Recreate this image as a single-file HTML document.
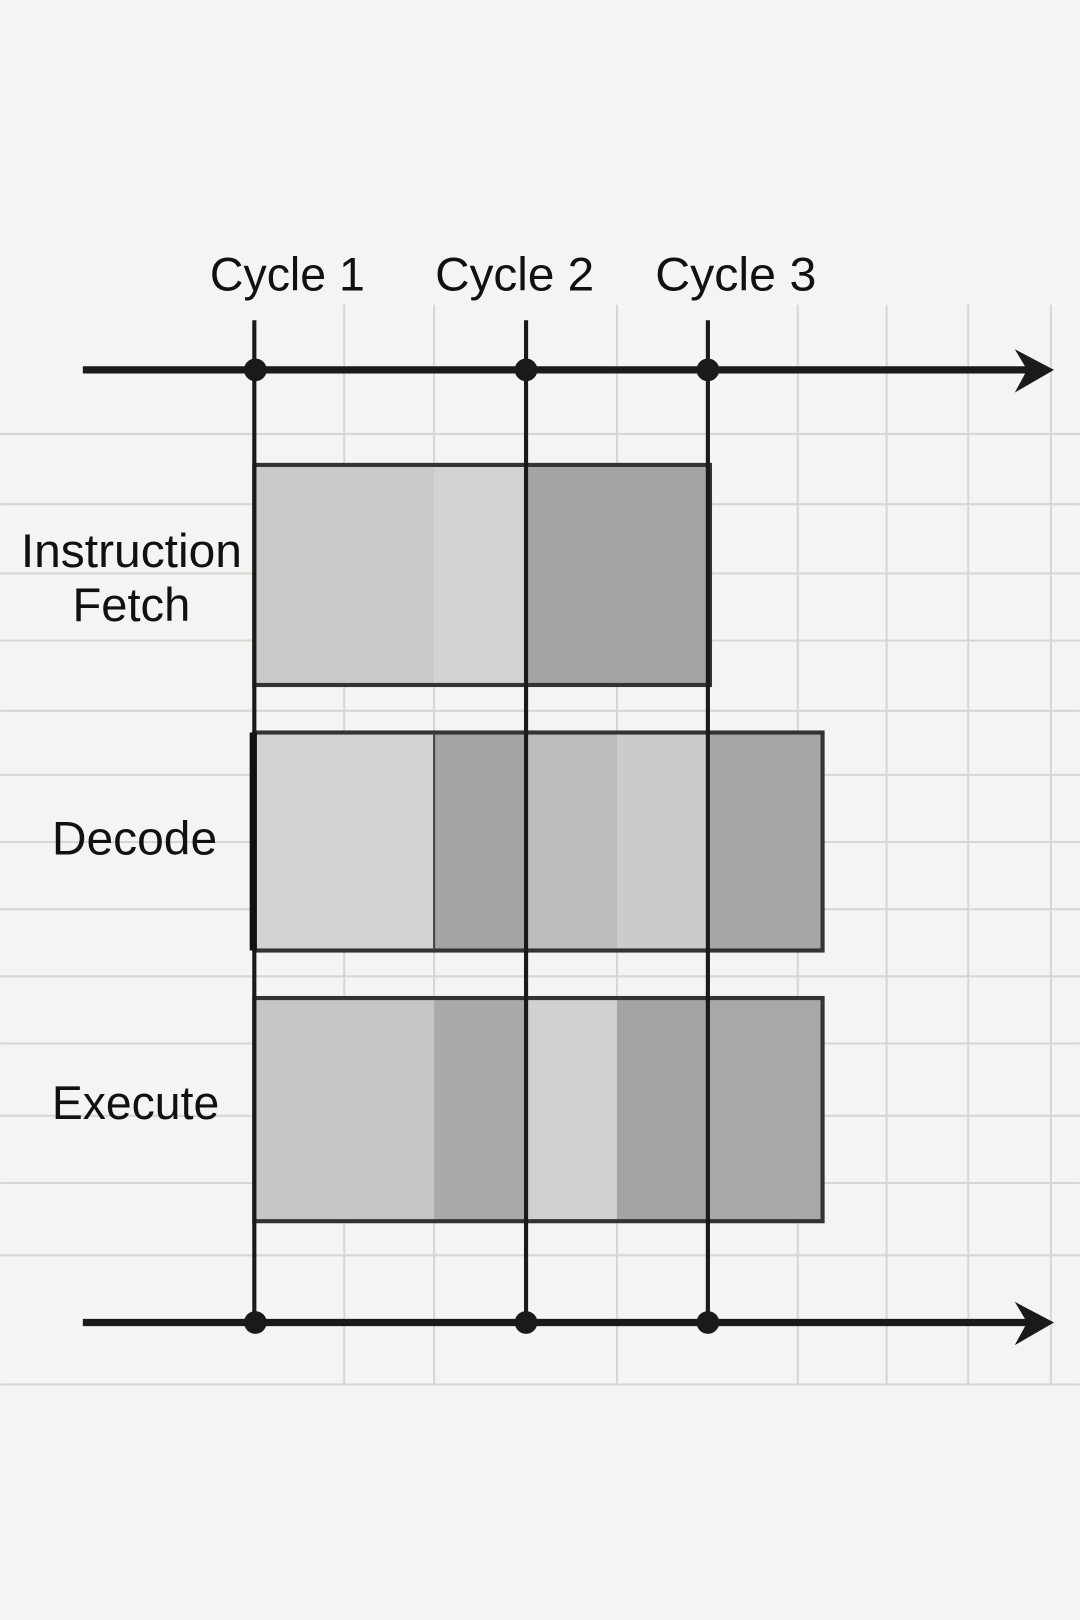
<!DOCTYPE html>
<html><head><meta charset="utf-8"><style>
html,body{margin:0;padding:0;background:#f4f4f2;}
svg{display:block;}
text{font-family:"Liberation Sans",sans-serif;fill:#111;}
</style></head><body>
<svg width="1080" height="1620" viewBox="0 0 1045 1568" xmlns="http://www.w3.org/2000/svg">
<rect width="1045" height="1568" fill="#f4f4f2"/>
<g stroke="#d6d6d4" stroke-width="2">
<line x1="0" y1="420" x2="1045" y2="420"/>
<line x1="0" y1="488" x2="1045" y2="488"/>
<line x1="0" y1="555" x2="1045" y2="555"/>
<line x1="0" y1="620" x2="1045" y2="620"/>
<line x1="0" y1="688" x2="1045" y2="688"/>
<line x1="0" y1="750" x2="1045" y2="750"/>
<line x1="0" y1="815" x2="1045" y2="815"/>
<line x1="0" y1="880" x2="1045" y2="880"/>
<line x1="0" y1="945" x2="1045" y2="945"/>
<line x1="0" y1="1010" x2="1045" y2="1010"/>
<line x1="0" y1="1080" x2="1045" y2="1080"/>
<line x1="0" y1="1145" x2="1045" y2="1145"/>
<line x1="0" y1="1215" x2="1045" y2="1215"/>
<line x1="0" y1="1340" x2="1045" y2="1340"/>
<line x1="333" y1="295" x2="333" y2="1340"/>
<line x1="420" y1="295" x2="420" y2="1340"/>
<line x1="597" y1="295" x2="597" y2="1340"/>
<line x1="772" y1="295" x2="772" y2="1340"/>
<line x1="858" y1="295" x2="858" y2="1340"/>
<line x1="937" y1="295" x2="937" y2="1340"/>
<line x1="1017" y1="295" x2="1017" y2="1340"/>
</g>
<!-- Fetch -->
<rect x="248" y="450" width="172" height="212" fill="#c9c9c9"/>
<rect x="420" y="450" width="89" height="212" fill="#d2d2d2"/>
<rect x="509" y="450" width="178" height="212" fill="#a4a4a4"/>
<rect x="246" y="450" width="441" height="213" fill="none" stroke="#333" stroke-width="4"/>
<!-- Decode -->
<rect x="248" y="709" width="172" height="211" fill="#d3d3d3"/>
<rect x="420" y="709" width="89" height="211" fill="#a4a4a4"/>
<rect x="509" y="709" width="88" height="211" fill="#bcbcbc"/>
<rect x="597" y="709" width="88" height="211" fill="#cbcbcb"/>
<rect x="685" y="709" width="112" height="211" fill="#a6a6a6"/>
<rect x="246" y="709" width="550" height="211" fill="none" stroke="#333" stroke-width="4"/>
<line x1="420" y1="709" x2="420" y2="920" stroke="#444" stroke-width="2"/>
<!-- Execute -->
<rect x="248" y="966" width="172" height="216" fill="#c6c6c6"/>
<rect x="420" y="966" width="89" height="216" fill="#a9a9a9"/>
<rect x="509" y="966" width="88" height="216" fill="#d0d0d0"/>
<rect x="597" y="966" width="88" height="216" fill="#a4a4a4"/>
<rect x="685" y="966" width="112" height="216" fill="#a8a8a8"/>
<rect x="246" y="966" width="550" height="216" fill="none" stroke="#333" stroke-width="4"/>
<!-- vertical cycle lines -->
<g stroke="#1a1a1a" stroke-width="4">
<line x1="246" y1="310" x2="246" y2="1290"/>
<line x1="509" y1="310" x2="509" y2="1290"/>
<line x1="685" y1="310" x2="685" y2="1290"/>
</g>
<line x1="245" y1="709" x2="245" y2="920" stroke="#111" stroke-width="7"/>
<!-- axes -->
<g stroke="#1a1a1a" stroke-width="7">
<line x1="80" y1="358" x2="1000" y2="358"/>
<line x1="80" y1="1280" x2="1000" y2="1280"/>
</g>
<polygon points="982,338 1020,358 982,380 994,358" fill="#1a1a1a"/>
<polygon points="982,1260 1020,1280 982,1302 994,1280" fill="#1a1a1a"/>
<g fill="#1a1a1a">
<circle cx="247" cy="358" r="11"/><circle cx="509" cy="358" r="11"/><circle cx="685" cy="358" r="11"/>
<circle cx="247" cy="1280" r="11"/><circle cx="509" cy="1280" r="11"/><circle cx="685" cy="1280" r="11"/>
</g>
<g font-size="46" text-anchor="middle">
<text x="278" y="281" textLength="150" lengthAdjust="spacingAndGlyphs">Cycle 1</text>
<text x="498" y="281" textLength="154" lengthAdjust="spacingAndGlyphs">Cycle 2</text>
<text x="712" y="281" textLength="156" lengthAdjust="spacingAndGlyphs">Cycle 3</text>
<text x="127" y="549" textLength="214" lengthAdjust="spacingAndGlyphs">Instruction</text>
<text x="127" y="601" textLength="114" lengthAdjust="spacingAndGlyphs">Fetch</text>
<text x="130" y="827" textLength="160" lengthAdjust="spacingAndGlyphs">Decode</text>
<text x="131" y="1083" textLength="162" lengthAdjust="spacingAndGlyphs">Execute</text>
</g>
</svg>
</body></html>
